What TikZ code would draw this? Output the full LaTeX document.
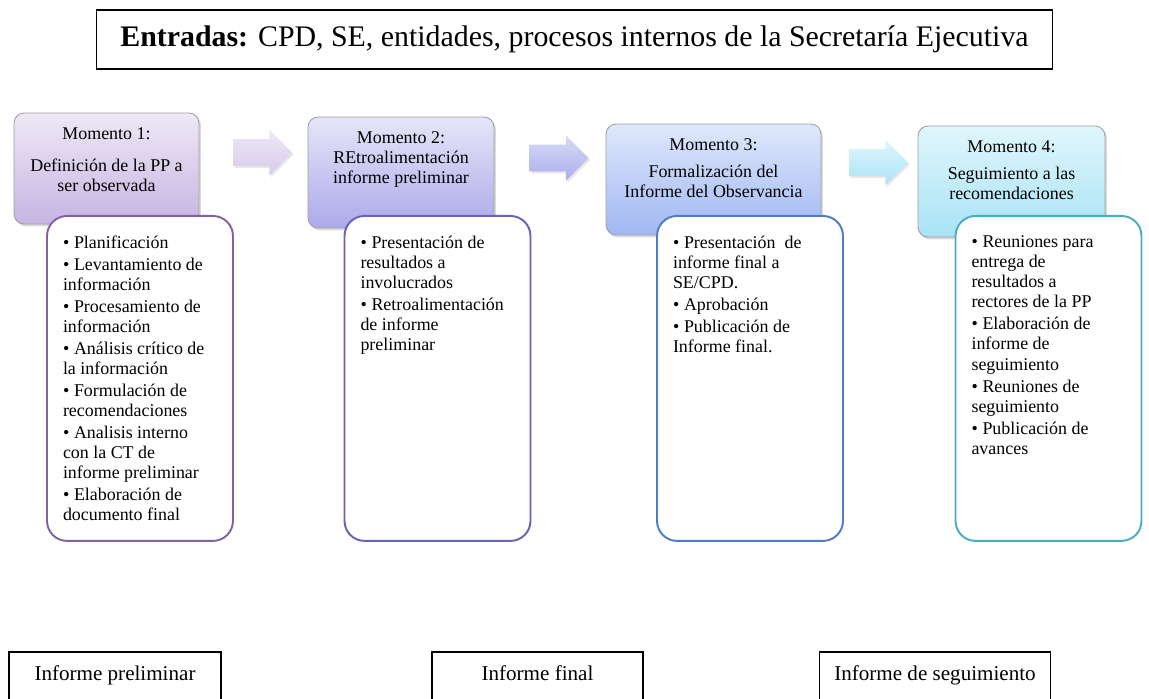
\documentclass[tikz,border=0pt]{standalone}
\usepackage{fontspec}
\setmainfont{Liberation Serif}
\usepackage[]{xcolor}
\usetikzlibrary{shapes.arrows,shadows}

\definecolor{lilaA}{HTML}{EEE8F6}
\definecolor{lilaB}{HTML}{C6B5E2}
\definecolor{lilaL}{HTML}{8064A2}
\definecolor{indigoA}{HTML}{E6E6F8}
\definecolor{indigoB}{HTML}{ADA9EA}
\definecolor{indigoL}{HTML}{6564B9}
\definecolor{azulA}{HTML}{DFE8FB}
\definecolor{azulB}{HTML}{A0B7F2}
\definecolor{azulL}{HTML}{4F7BC7}
\definecolor{cianA}{HTML}{E0F6FC}
\definecolor{cianB}{HTML}{A8E3F5}
\definecolor{cianL}{HTML}{4BACC6}

\newcommand{\punto}[1]{\par\hangindent=0.22cm\hangafter=1\noindent\makebox[0.22cm][l]{\textbullet}#1}

\begin{document}
\begin{tikzpicture}[
            x=0.02cm, y=-0.02cm,
            momento/.style={rectangle, draw=gray!75, line width=0.5pt, rounded corners=0.2cm, inner sep=0.3cm, minimum height=2.22cm, font=\fontsize{10.2}{11.4}\selectfont, drop shadow={opacity=0.3, shadow xshift=0.04cm, shadow yshift=-0.05cm}},
            lista/.style={rectangle, line width=1.1pt, rounded corners=0.4cm, fill=white, anchor=north, inner xsep=0.32cm, inner ysep=0.4cm, font=\fontsize{10.2}{11.4}\selectfont},
            flecha/.style={single arrow, single arrow head extend=0.19cm, single arrow tip angle=90, minimum height=1.18cm, inner sep=0.26cm, drop shadow={opacity=0.2, shadow xshift=0.03cm, shadow yshift=-0.04cm}},
            salida/.style={rectangle, draw, line width=0.6pt, inner xsep=0.3cm, inner ysep=0.2cm, text height=0.36cm, text depth=0.9cm, anchor=base, font=\fontsize{12}{14}\selectfont}
        ]
            \useasboundingbox (0,0) rectangle (1149,699);
            \clip (0,0) rectangle (1149,699);

            \node[draw, line width=0.6pt, minimum width=19.14cm, minimum height=1.18cm, font=\fontsize{17}{20}\selectfont] (entradas) at (574.5,39.5) {\textbf{Entradas:} CPD, SE, entidades, procesos internos de la Secretaría Ejecutiva};

            \node[momento, top color=lilaA, bottom color=lilaB] (m1) at (106.5,168.5) {\parbox[t][1.62cm][t]{3.1cm}{\centering Momento 1:\\[0.24cm] Definición de la PP a\\ ser observada}};
            \node[momento, top color=indigoA, bottom color=indigoB] (m2) at (401,172.5) {\parbox[t][1.62cm][t]{3.12cm}{\centering Momento 2:\\ REtroalimentación\\ informe preliminar}};
            \node[momento, top color=azulA, bottom color=azulB] (m3) at (713.5,179.5) {\parbox[t][1.62cm][t]{3.7cm}{\centering Momento 3:\\[0.14cm] Formalización del\\ Informe del Observancia}};
            \node[momento, top color=cianA, bottom color=cianB] (m4) at (1011.5,181.5) {\parbox[t][1.62cm][t]{3.14cm}{\centering Momento 4:\\[0.14cm] Seguimiento a las\\ recomendaciones}};

            \node[flecha, top color=lilaA, bottom color=lilaB!70] (f1) at (256,152.5) {};
            \node[flecha, top color=indigoA!80!azulB, bottom color=indigoB!80!azulB] (f2) at (552.5,158) {};
            \node[flecha, top color=cianA, bottom color=cianB] (f3) at (872,162.5) {};

            \node[lista, draw=lilaL] (l1) at (140,215) {\parbox[t][5.7cm][t]{3.08cm}{\raggedright\parskip=0.04cm
                \punto{Planificación}
                \punto{Levantamiento de\\ información}
                \punto{Procesamiento de\\ información}
                \punto{Análisis crítico de\\ la información}
                \punto{Formulación de\\ recomendaciones}
                \punto{Analisis interno\\ con la CT de\\ informe preliminar}
                \punto{Elaboración de\\ documento final}}};
            \node[lista, draw=indigoL] (l2) at (437.5,215) {\parbox[t][5.7cm][t]{3.08cm}{\raggedright\parskip=0.04cm
                \punto{Presentación de\\ resultados a\\ involucrados}
                \punto{Retroalimentación\\ de informe\\ preliminar}}};
            \node[lista, draw=azulL] (l3) at (750,215) {\parbox[t][5.7cm][t]{3.08cm}{\raggedright\parskip=0.04cm
                \punto{Presentación~ de\\ informe final a\\ SE/CPD.}
                \punto{Aprobación}
                \punto{Publicación de\\ Informe final.}}};
            \node[lista, draw=cianL] (l4) at (1048.5,215) {\parbox[t][5.7cm][t]{3.08cm}{\raggedright\parskip=0.04cm
                \punto{Reuniones para\\ entrega de\\ resultados a\\ rectores de la PP}
                \punto{Elaboración de\\ informe de\\ seguimiento}
                \punto{Reuniones de\\ seguimiento}
                \punto{Publicación de\\ avances}}};

            \node[salida, minimum width=4.24cm] (s1) at (115,680) {Informe preliminar};
            \node[salida, minimum width=4.22cm] (s2) at (537.5,680) {Informe final};
            \node[salida, minimum width=4.4cm] (s3) at (935,680) {Informe de seguimiento};
        \end{tikzpicture}
\end{document}
